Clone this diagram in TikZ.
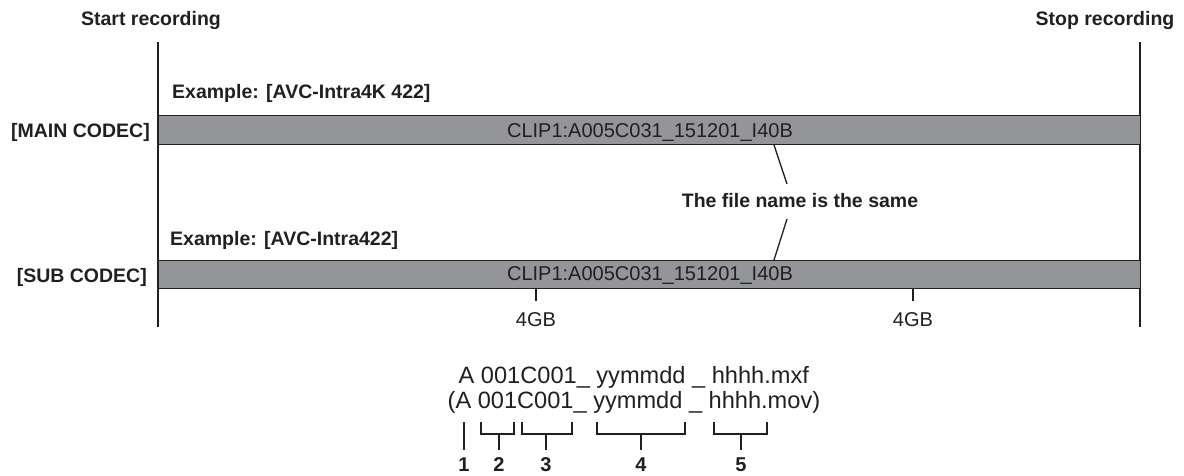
\documentclass[tikz,border=0pt]{standalone}
\usepackage{fontspec}
\setmainfont{Liberation Sans}
\definecolor{ink}{HTML}{231F20}
\definecolor{barfill}{HTML}{939598}
\begin{document}
\begin{tikzpicture}[x=1pt,y=-1pt,
  boldlbl/.style={font=\fontsize{19.5}{23}\selectfont\bfseries, text=ink, inner sep=0pt},
  plain/.style={font=\fontsize{20}{24}\selectfont, text=ink, inner sep=0pt},
  fname/.style={font=\fontsize{23.6}{28}\selectfont, text=ink, inner sep=0pt, anchor=base west},
  numlbl/.style={font=\fontsize{20}{24}\selectfont\bfseries, text=ink, inner sep=0pt, anchor=base},
  bar/.style={draw=ink, line width=1pt, fill=barfill, minimum width=982pt, minimum height=29pt, inner sep=0pt, anchor=north west},
  vline/.style={draw=ink, line width=1.4pt},
  thin/.style={draw=ink, line width=1.3pt}]
\useasboundingbox (0,0) rectangle (1184,475);

% time markers
\node[boldlbl, anchor=base] (start) at (151,25) {Start recording};
\node[boldlbl, anchor=base] (stop) at (1105,25) {Stop recording};
\coordinate (ls) at (158,42);
\coordinate (le) at (158,327);
\coordinate (rs) at (1140,42);
\coordinate (re) at (1140,327);
\draw[vline] (ls) -- (le);
\draw[vline] (rs) -- (re);

% main codec
\node[boldlbl, anchor=base west] (ex1) at (172,98) {Example: [AVC-Intra4K 422]};
\node[bar] (mainbar) at (158,115) {};
\node[boldlbl, anchor=base east] (maincodec) at (150,137) {[MAIN CODEC]};
\node[plain, anchor=base] (maintxt) at (650,137.5) {CLIP1:A005C031\_151201\_I40B};

% sub codec
\node[boldlbl, anchor=base west] (ex2) at (170,245) {Example: [AVC-Intra422]};
\node[bar, minimum height=28pt] (subbar) at (158,260) {};
\node[boldlbl, anchor=base east] (subcodec) at (147,282.5) {[SUB CODEC]};
\node[plain, anchor=base] (subtxt) at (650,280) {CLIP1:A005C031\_151201\_I40B};

% same file name
\node[boldlbl, anchor=base] (same) at (800,207) {The file name is the same};
\coordinate (u1) at (774,145);
\coordinate (u2) at (787,184);
\coordinate (d1) at (787,219);
\coordinate (d2) at (774,260);
\draw[thin] (u1) -- (u2);
\draw[thin] (d1) -- (d2);

% 4GB marks
\coordinate (t1) at (536,288);
\coordinate (t2) at (913,288);
\node[plain, anchor=base] (g1) at (536,326) {4GB};
\node[plain, anchor=base] (g2) at (913,326) {4GB};
\draw[thin] (t1) -- ++(0,13);
\draw[thin] (t2) -- ++(0,13);

% file name structure
\node[fname] (line1) at (458.5,383) {A 001C001\_ yymmdd \_ hhhh.mxf};
\node[fname] (line2) at (447.5,408) {(A 001C001\_ yymmdd \_ hhhh.mov)};

\node[numlbl] (n1) at (464,471) {1};
\node[numlbl] (n2) at (499,471) {2};
\node[numlbl] (n3) at (546,471) {3};
\node[numlbl] (n4) at (641,471) {4};
\node[numlbl] (n5) at (741,471) {5};

\draw[thin] (464,422) -- (464,450);
\draw[thin] (481,422) -- (481,434) -- (514,434) -- (514,422);
\draw[thin] (499,434) -- (499,450);
\draw[thin] (522,422) -- (522,434) -- (572,434) -- (572,422);
\draw[thin] (546,434) -- (546,450);
\draw[thin] (597,422) -- (597,434) -- (685,434) -- (685,422);
\draw[thin] (641,434) -- (641,450);
\draw[thin] (714,422) -- (714,434) -- (767,434) -- (767,422);
\draw[thin] (741,434) -- (741,450);
\end{tikzpicture}
\end{document}
